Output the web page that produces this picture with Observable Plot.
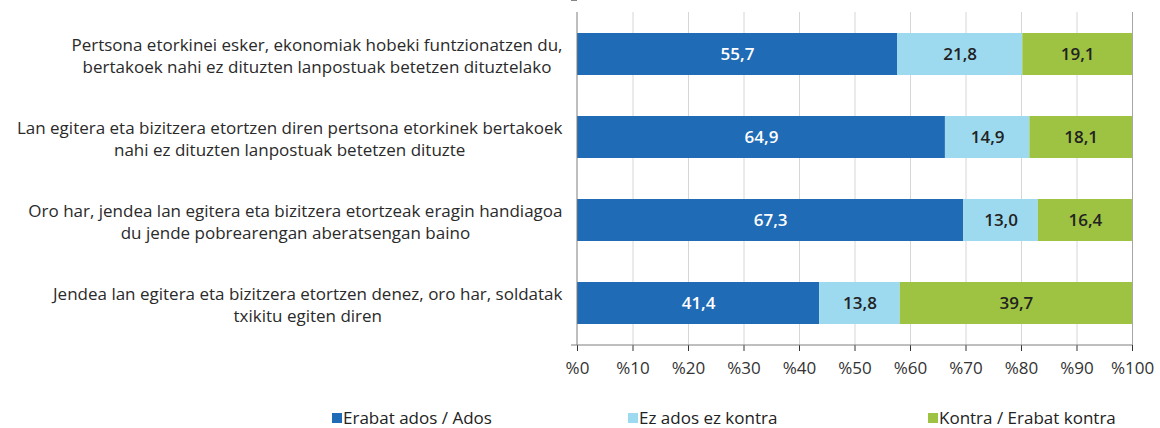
<!DOCTYPE html>
<html><head><meta charset="utf-8">
<script src="https://cdn.jsdelivr.net/npm/d3@7"></script>
<script src="https://cdn.jsdelivr.net/npm/@observablehq/plot@0.6"></script>
<style>
body{margin:0;background:#fff;font-family:"Open Sans",sans-serif;}
#legend{position:relative;height:33px;font-size:17px;color:#222;}
.item{position:absolute;top:11px;display:flex;align-items:center;white-space:nowrap;}
.sw{width:10px;height:10px;margin-right:1px;}
</style></head><body><div id="chart"></div><div id="legend"></div>
<script>
const statements = [
  "Pertsona etorkinei esker, ekonomiak hobeki funtzionatzen du,\nbertakoek nahi ez dituzten lanpostuak betetzen dituztelako",
  "Lan egitera eta bizitzera etortzen diren pertsona etorkinek bertakoek\nnahi ez dituzten lanpostuak betetzen dituzte",
  "Oro har, jendea lan egitera eta bizitzera etortzeak eragin handiagoa\ndu jende pobrearengan aberatsengan baino",
  "Jendea lan egitera eta bizitzera etortzen denez, oro har, soldatak\ntxikitu egiten diren"
];
const categories = ["Erabat ados / Ados", "Ez ados ez kontra", "Kontra / Erabat kontra"];
const agree = [55.7, 64.9, 67.3, 41.4];
const neutral = [21.8, 14.9, 13.0, 13.8];
const disagree = [19.1, 18.1, 16.4, 39.7];
const colors = ["#1f6bb5", "#9ddaef", "#9ec241"];
const xTicks = [0, 10, 20, 30, 40, 50, 60, 70, 80, 90, 100];

const series = [agree, neutral, disagree];
const data = statements.flatMap((s, i) => categories.map((c, k) => ({statement: s, category: c, value: series[k][i]})));
const fmt = v => v.toFixed(1).replace(".", ",");

const FONT = '"Open Sans", sans-serif';
const labelFont = 17;
const ctx = document.createElement("canvas").getContext("2d");
ctx.font = `${labelFont}px "Open Sans"`;
const labelMarks = statements.map(s => {
  const w = Math.max(...s.split("\n").map(l => ctx.measureText(l).width));
  return Plot.text([s], {y: d => d, text: d => d, frameAnchor: "left", textAnchor: "middle",
    dx: -(15 + w / 2), fontSize: labelFont, fill: "#2a2a2a", lineHeight: 1.3, lineWidth: 1000});
});

function decorations(...args) {
  const scales = args.find(a => a && typeof a.y === "function");
  const dims = args.find(a => a && a.marginLeft !== undefined && a.width !== undefined);
  const ns = "http://www.w3.org/2000/svg";
  const g = document.createElementNS(ns, "g");
  const y = scales.y;
  const left = dims.marginLeft, right = dims.width - dims.marginRight;
  const top = dims.marginTop, bottom = dims.height - dims.marginBottom;
  const step = (bottom - top) / statements.length;
  const bounds = statements.map(s => y(s) - (step - y.bandwidth) / 2);
  bounds.push(bottom);
  const line = (x1, y1, x2, y2, c) => {
    const l = document.createElementNS(ns, "line");
    l.setAttribute("x1", x1); l.setAttribute("y1", y1); l.setAttribute("x2", x2); l.setAttribute("y2", y2);
    l.setAttribute("stroke", c); l.setAttribute("stroke-width", 1);
    g.appendChild(l);
  };
  bounds.forEach(b => line(left - 6, b, left, b, "#7f7f7f"));
  line(left, top, left, bottom, "#7f7f7f");
  line(left, bottom, right, bottom, "#7f7f7f");
  return g;
}

const chart = Plot.plot({
  width: 1160,
  height: 395,
  marginLeft: 577,
  marginRight: 28,
  marginTop: 12,
  marginBottom: 50,
  style: {fontFamily: FONT, fontSize: "17px", color: "#333", background: "#fff"},
  x: {domain: [0, 1], ticks: xTicks.map(d => d / 100), tickFormat: d => "%" + Math.round(d * 100), tickSize: 6, tickPadding: 10, label: null},
  y: {domain: statements, paddingInner: 0.5, paddingOuter: 0.25, axis: null, label: null},
  color: {domain: categories, range: colors},
  marks: [
    Plot.ruleX(xTicks.filter(d => d > 0 && d < 100).map(d => d / 100), {stroke: "#d6d6d6"}),
    Plot.ruleX([1], {stroke: "#a6a6a6"}),
    Plot.barX(data, Plot.stackX({offset: "normalize", x: "value", y: "statement", fill: "category", order: categories})),
    Plot.text(data, Plot.stackX({offset: "normalize", x: "value", y: "statement", z: "category", order: categories,
      text: d => fmt(d.value), fill: d => d.category === categories[0] ? "white" : "#222", fontSize: 17, fontWeight: 600})),
    ...labelMarks,
    decorations
  ]
});
document.getElementById("chart").appendChild(chart);

const legend = document.getElementById("legend");
const legendX = [332, 628, 928];
categories.forEach((c, i) => {
  const it = document.createElement("div");
  it.className = "item";
  it.style.left = legendX[i] + "px";
  it.innerHTML = `<span class="sw" style="background:${colors[i]}"></span><span>${c}</span>`;
  legend.appendChild(it);
});
</script></body></html>
